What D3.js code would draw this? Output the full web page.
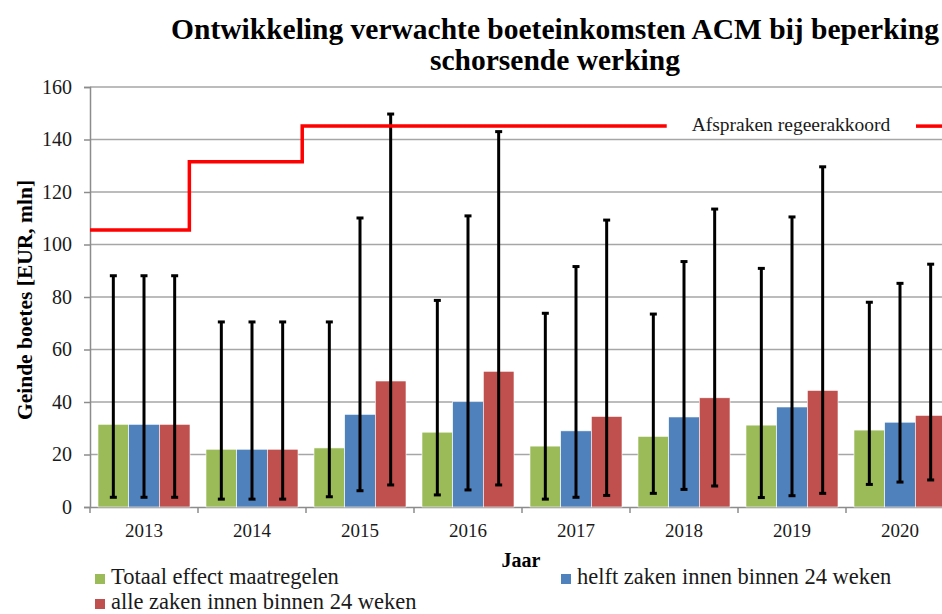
<!DOCTYPE html>
<html>
<head>
<meta charset="utf-8">
<script src="https://cdn.jsdelivr.net/npm/d3@7"></script>
<style>
  body { margin: 0; background: #fff; }
  svg { display: block; font-family: "Liberation Serif", "DejaVu Serif", serif; }
</style>
</head>
<body>
<div id="container"></div>
<script>
// data
var years = ["2013", "2014", "2015", "2016", "2017", "2018", "2019", "2020"];
var seriesNames = ["Totaal effect maatregelen", "helft zaken innen binnen 24 weken", "alle zaken innen binnen 24 weken"];
var seriesColors = ["#9bbb59", "#4f81bd", "#c0504d"];

var totaal = [31.5, 22.0, 22.5, 28.5, 23.2, 26.9, 31.2, 29.3];
var helft  = [31.5, 22.0, 35.3, 40.1, 29.0, 34.3, 38.1, 32.3];
var alle   = [31.5, 22.0, 48.0, 51.7, 34.5, 41.6, 44.4, 34.9];

var totaalLow  = [3.7, 3.0, 3.9, 4.6, 3.0, 5.2, 3.6, 8.6];
var totaalHigh = [88.1, 70.5, 70.5, 78.7, 73.8, 73.5, 90.9, 78.0];
var helftLow   = [3.7, 3.0, 6.2, 6.5, 3.7, 6.7, 4.3, 9.5];
var helftHigh  = [88.1, 70.5, 110.1, 110.9, 91.6, 93.5, 110.5, 85.2];
var alleLow    = [3.7, 3.0, 8.4, 8.4, 4.4, 8.0, 5.2, 10.3];
var alleHigh   = [88.1, 70.5, 149.7, 143.0, 109.3, 113.5, 129.6, 92.5];

// "Afspraken regeerakkoord" step line (x in year units, 0 = left edge of 2013)
var stepX = [0, 0.92, 0.92, 1.965, 1.965, 5.34];
var stepY = [105.5, 105.5, 131.5, 131.5, 145.1, 145.1];
var stepLabel = "Afspraken regeerakkoord";

var yTicks = [0, 20, 40, 60, 80, 100, 120, 140, 160];

var width = 942, height = 614;
var margin = { left: 90, top: 87, right: 954, bottom: 507 };

var svg = d3.select("#container").append("svg")
    .attr("width", width)
    .attr("height", height);

var y = d3.scaleLinear().domain([0, 160]).range([margin.bottom, margin.top]);
var x0 = d3.scaleBand().domain(years).range([margin.left, margin.right]);
var x1 = d3.scaleBand().domain([0, 1, 2]).range([8, x0.bandwidth() - 8]);
var xStep = d3.scaleLinear().domain([0, years.length]).range([margin.left, margin.right]);

// gridlines
svg.append("g")
    .selectAll("line")
    .data(yTicks.slice(1))
    .enter().append("line")
    .attr("x1", margin.left).attr("x2", margin.right)
    .attr("y1", function(d) { return y(d); })
    .attr("y2", function(d) { return y(d); })
    .style("stroke", "#a6a6a6")
    .style("stroke-width", 1.5);

// y axis
var yAxis = svg.append("g")
    .attr("transform", "translate(" + margin.left + ",0)")
    .call(d3.axisLeft(y).tickValues(yTicks).tickSize(6).tickPadding(12));
yAxis.select(".domain").style("stroke", "#8c8c8c").style("stroke-width", 1.5);
yAxis.selectAll(".tick line").style("stroke", "#8c8c8c").style("stroke-width", 1.5);
yAxis.selectAll("text")
    .style("font-size", "20px")
    .style("fill", "#1a1a1a")
    .style("font-family", "Liberation Serif, serif");

// x axis
var xAxis = svg.append("g")
    .attr("transform", "translate(0," + margin.bottom + ")")
    .call(d3.axisBottom(x0).tickSize(0).tickPadding(17));
xAxis.select(".domain").style("stroke", "#8c8c8c").style("stroke-width", 1.5);
xAxis.selectAll("text")
    .style("font-size", "19px")
    .style("fill", "#1a1a1a")
    .style("font-family", "Liberation Serif, serif");

// category separator ticks
svg.append("g")
    .selectAll("line")
    .data(d3.range(years.length + 1))
    .enter().append("line")
    .attr("x1", function(d) { return xStep(d); })
    .attr("x2", function(d) { return xStep(d); })
    .attr("y1", margin.bottom).attr("y2", margin.bottom + 6)
    .style("stroke", "#8c8c8c")
    .style("stroke-width", 1.5);

// bars
var values = [totaal, helft, alle];
var lows = [totaalLow, helftLow, alleLow];
var highs = [totaalHigh, helftHigh, alleHigh];

var barData = [];
years.forEach(function(yr, i) {
    values.forEach(function(s, k) {
        barData.push({ year: yr, k: k, v: s[i], lo: lows[k][i], hi: highs[k][i] });
    });
});

svg.append("g")
    .selectAll("rect")
    .data(barData)
    .enter().append("rect")
    .attr("x", function(d) { return x0(d.year) + x1(d.k); })
    .attr("width", x1.bandwidth())
    .attr("y", function(d) { return y(d.v); })
    .attr("height", function(d) { return y(0) - y(d.v); })
    .style("fill", function(d) { return seriesColors[d.k]; })
    .style("stroke", "#fff")
    .style("stroke-width", 0.6);

// error bars
var eb = svg.append("g")
    .selectAll("g")
    .data(barData)
    .enter().append("g")
    .attr("transform", function(d) { return "translate(" + (x0(d.year) + x1(d.k) + x1.bandwidth() / 2) + ",0)"; });

eb.append("line")
    .attr("y1", function(d) { return y(d.lo); })
    .attr("y2", function(d) { return y(d.hi); })
    .style("stroke", "#000")
    .style("stroke-width", 3);
eb.append("line")
    .attr("x1", -3.5).attr("x2", 3.5)
    .attr("y1", function(d) { return y(d.hi); })
    .attr("y2", function(d) { return y(d.hi); })
    .style("stroke", "#000")
    .style("stroke-width", 3);
eb.append("line")
    .attr("x1", -3.5).attr("x2", 3.5)
    .attr("y1", function(d) { return y(d.lo); })
    .attr("y2", function(d) { return y(d.lo); })
    .style("stroke", "#000")
    .style("stroke-width", 3);

// step line
var stepPts = stepX.map(function(d, i) { return [xStep(d), y(stepY[i])]; });
svg.append("path")
    .attr("d", d3.line()(stepPts))
    .style("fill", "none")
    .style("stroke", "#ff0000")
    .style("stroke-width", 3.5);

// step line legend
svg.append("rect")
    .attr("x", 680).attr("y", 113).attr("width", 224).attr("height", 23)
    .style("fill", "#fff");
svg.append("text")
    .attr("x", 791).attr("y", 131)
    .attr("text-anchor", "middle")
    .style("font-size", "19.5px")
    .style("fill", "#1a1a1a")
    .text(stepLabel);
svg.append("line")
    .attr("x1", 916).attr("x2", 944)
    .attr("y1", y(145.1)).attr("y2", y(145.1))
    .style("stroke", "#ff0000")
    .style("stroke-width", 3.5);

// title
var title = svg.append("text")
    .attr("text-anchor", "middle")
    .style("font-size", "29.5px")
    .style("font-weight", "bold")
    .style("fill", "#000");
title.append("tspan").attr("x", 555).attr("y", 39).text("Ontwikkeling verwachte boeteinkomsten ACM bij beperking");
title.append("tspan").attr("x", 555).attr("y", 70).text("schorsende werking");

// axis titles
svg.append("text")
    .attr("transform", "translate(32,300) rotate(-90)")
    .attr("text-anchor", "middle")
    .style("font-size", "21.5px")
    .style("font-weight", "bold")
    .text("Geinde boetes [EUR, mln]");

svg.append("text")
    .attr("x", 521).attr("y", 567)
    .attr("text-anchor", "middle")
    .style("font-size", "20px")
    .style("font-weight", "bold")
    .text("Jaar");

// legend
var legendPos = [[95, 584], [561, 584], [95, 609]];
var lg = svg.append("g")
    .selectAll("g")
    .data(seriesNames)
    .enter().append("g")
    .attr("transform", function(d, i) { return "translate(" + legendPos[i][0] + "," + legendPos[i][1] + ")"; });
lg.append("rect")
    .attr("x", 0).attr("y", -10).attr("width", 10).attr("height", 10)
    .style("fill", function(d, i) { return seriesColors[i]; });
lg.append("text")
    .attr("x", 16).attr("y", 0)
    .style("font-size", "22.5px")
    .style("fill", "#1a1a1a")
    .text(function(d) { return d; });
</script>
</body>
</html>
